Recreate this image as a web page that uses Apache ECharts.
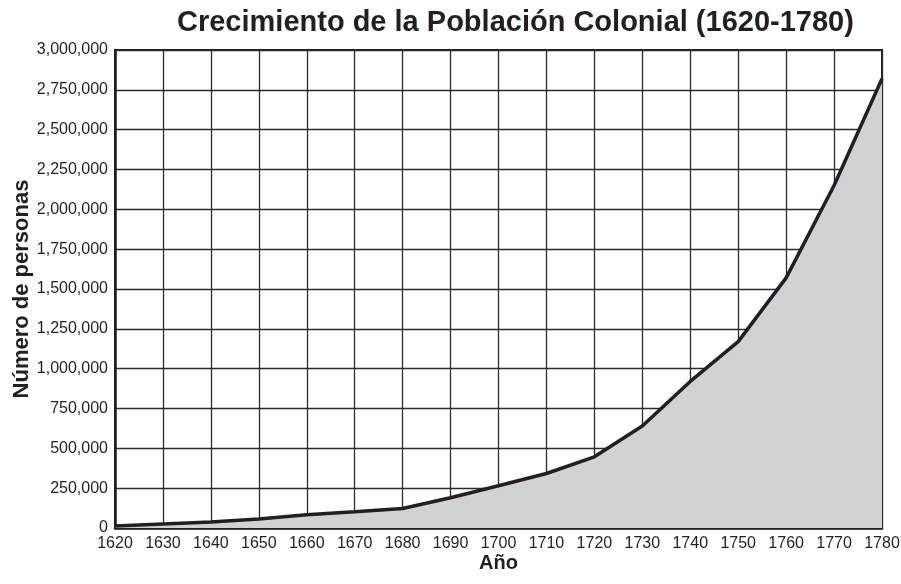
<!DOCTYPE html>
<html>
<head>
<meta charset="utf-8">
<script src="https://cdn.jsdelivr.net/npm/echarts@6/dist/echarts.min.js"></script>
<style>
	html, body { margin: 0; padding: 0; background: #fff; }
	#chart { width: 901px; height: 584px; }
</style>
</head>
<body>
<div id="chart"></div>
<script>
// datos
var years = ['1620', '1630', '1640', '1650', '1660', '1670', '1680', '1690',
	'1700', '1710', '1720', '1730', '1740', '1750', '1760', '1770', '1780'];
var population = [12000, 25000, 37000, 56000, 83000, 102000, 122000, 190000,
	265000, 342000, 447000, 640000, 920000, 1170000, 1570000, 2150000, 2820000];
var yMin = 0;
var yMax = 3000000;
var yStep = 250000;

var myChart = echarts.init(document.getElementById('chart'));
var fontFam = '"Liberation Sans", Arial, Helvetica, sans-serif';

option = {
	animation: false,
	backgroundColor: '#ffffff',
	title: {
		text: 'Crecimiento de la Población Colonial (1620-1780)',
		left: 172,
		top: 3,
		textStyle: {
			color: '#231f20',
			fontSize: 29,
			fontWeight: 'bold',
			fontFamily: fontFam
		}
	},
	grid: {
		left: 115,
		right: 19,
		top: 50,
		bottom: 56,
		outerBoundsMode: 'none',
		show: true,
		borderColor: '#231f20',
		borderWidth: 2,
		backgroundColor: 'transparent'
	},
	xAxis: {
		type: 'category',
		data: years,
		boundaryGap: false,
		name: 'Año',
		nameLocation: 'middle',
		nameGap: 25,
		nameMoveOverlap: false,
		nameTextStyle: {
			color: '#231f20',
			fontSize: 20,
			fontWeight: 'bold',
			fontFamily: fontFam
		},
		axisLine: { lineStyle: { color: '#231f20', width: 2.5 } },
		axisTick: { show: false },
		axisLabel: {
			color: '#231f20',
			fontSize: 16,
			fontFamily: fontFam,
			margin: 8,
			interval: 0
		},
		splitLine: { show: true, lineStyle: { color: '#2b2b2b', width: 1.3 } }
	},
	yAxis: {
		type: 'value',
		min: yMin,
		max: yMax,
		interval: yStep,
		name: 'Número de personas',
		nameLocation: 'middle',
		nameGap: 82,
		nameMoveOverlap: false,
		nameTextStyle: {
			color: '#231f20',
			fontSize: 22,
			fontWeight: 'bold',
			fontFamily: fontFam
		},
		axisLine: { show: true, lineStyle: { color: '#231f20', width: 2.5 } },
		axisTick: { show: false },
		axisLabel: {
			color: '#231f20',
			fontSize: 16,
			fontFamily: fontFam,
			margin: 7,
			formatter: function (v) { return v.toLocaleString('en-US'); }
		},
		splitLine: { show: true, lineStyle: { color: '#2b2b2b', width: 1.3 } }
	},
	series: [{
		type: 'line',
		data: population,
		symbol: 'none',
		lineStyle: { color: '#231f20', width: 3.5 },
		areaStyle: { color: '#d1d2d4', opacity: 1 }
	}]
};

myChart.setOption(option);
</script>
</body>
</html>
